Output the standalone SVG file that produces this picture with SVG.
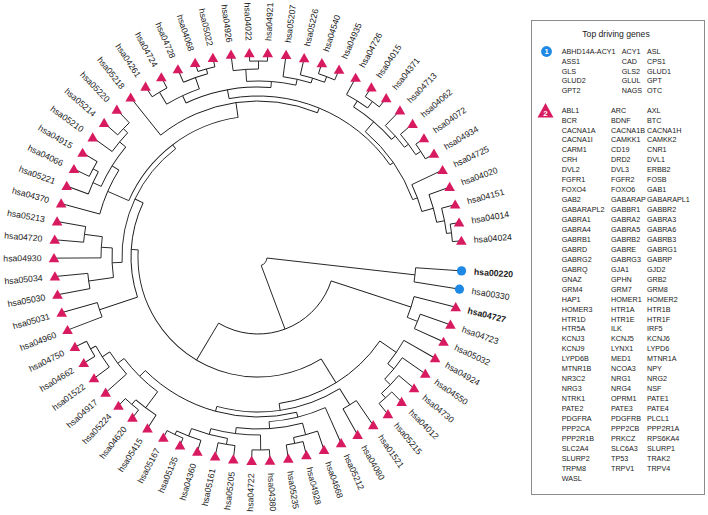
<svg xmlns="http://www.w3.org/2000/svg" xmlns:xlink="http://www.w3.org/1999/xlink" width="708" height="515" viewBox="0 0 708 515">
<style>
.c{fill:none;stroke:#1a1a1a;stroke-width:0.9}
.l{font-family:"Liberation Sans",Arial,sans-serif;font-size:8.7px;fill:#1a1a1a;dominant-baseline:central}
.e{text-anchor:end}
.b{font-weight:bold}
.g{font-family:"Liberation Sans",Arial,sans-serif;font-size:7.2px;fill:#1a1a1a}
.tt{font-family:"Liberation Sans",Arial,sans-serif;font-size:8.6px;fill:#1a1a1a;text-anchor:middle}
.w{font-family:"Liberation Sans",Arial,sans-serif;font-weight:bold;fill:#fff;text-anchor:middle}
</style>
<defs>
<polygon id="t" points="0,-5.2 5.3,4 -5.3,4" fill="#D81B60"/>
<circle id="o" r="4.6" fill="#1E88E5"/>
</defs>
<rect width="708" height="515" fill="#fff"/>
<g id="connectors" class="c" transform="translate(258 257)">
<circle r="9" transform="rotate(6.485)" stroke-dasharray="62.975 999" pathLength="360"/>
<circle r="158" transform="rotate(3.9)" stroke-dasharray="5.17 999" pathLength="360"/>
<circle r="77" transform="rotate(18.12)" stroke-dasharray="102.68 999" pathLength="360"/>
<circle r="161" transform="rotate(14.24)" stroke-dasharray="7.76 999" pathLength="360"/>
<circle r="172" transform="rotate(19.41)" stroke-dasharray="5.17 999" pathLength="360"/>
<circle r="120" transform="rotate(58.2)" stroke-dasharray="125.21 999" pathLength="360"/>
<circle r="148" transform="rotate(34.6)" stroke-dasharray="47.19 999" pathLength="360"/>
<circle r="168" transform="rotate(29.75)" stroke-dasharray="9.69 999" pathLength="360"/>
<circle r="176" transform="rotate(34.92)" stroke-dasharray="9.05 999" pathLength="360"/>
<circle r="184" transform="rotate(40.09)" stroke-dasharray="7.755 999" pathLength="360"/>
<circle r="190" transform="rotate(45.26)" stroke-dasharray="5.17 999" pathLength="360"/>
<circle r="155" transform="rotate(58.185)" stroke-dasharray="47.215 999" pathLength="360"/>
<circle r="174" transform="rotate(55.6)" stroke-dasharray="5.17 999" pathLength="360"/>
<circle r="160" transform="rotate(76.04)" stroke-dasharray="58.73 999" pathLength="360"/>
<circle r="165" transform="rotate(65.94)" stroke-dasharray="20.195 999" pathLength="360"/>
<circle r="172" transform="rotate(74.99)" stroke-dasharray="22.29 999" pathLength="360"/>
<circle r="184" transform="rotate(71.11)" stroke-dasharray="7.755 999" pathLength="360"/>
<circle r="190" transform="rotate(76.28)" stroke-dasharray="5.17 999" pathLength="360"/>
<circle r="178" transform="rotate(89.205)" stroke-dasharray="16.155 999" pathLength="360"/>
<circle r="193" transform="rotate(86.62)" stroke-dasharray="5.17 999" pathLength="360"/>
<circle r="184" transform="rotate(99.545)" stroke-dasharray="11.635 999" pathLength="360"/>
<circle r="190" transform="rotate(96.96)" stroke-dasharray="5.17 999" pathLength="360"/>
<circle r="192" transform="rotate(107.3)" stroke-dasharray="7.755 999" pathLength="360"/>
<circle r="196" transform="rotate(112.47)" stroke-dasharray="5.17 999" pathLength="360"/>
<circle r="168" transform="rotate(126.69)" stroke-dasharray="16.15 999" pathLength="360"/>
<circle r="188" transform="rotate(122.81)" stroke-dasharray="7.755 999" pathLength="360"/>
<circle r="194" transform="rotate(127.98)" stroke-dasharray="5.17 999" pathLength="360"/>
<circle r="176" transform="rotate(138.32)" stroke-dasharray="9.05 999" pathLength="360"/>
<circle r="185" transform="rotate(143.49)" stroke-dasharray="7.755 999" pathLength="360"/>
<circle r="191" transform="rotate(148.66)" stroke-dasharray="5.17 999" pathLength="360"/>
<circle r="127" transform="rotate(161.585)" stroke-dasharray="43.655 999" pathLength="360"/>
<circle r="167" transform="rotate(159)" stroke-dasharray="5.17 999" pathLength="360"/>
<circle r="136" transform="rotate(177.74)" stroke-dasharray="54.99 999" pathLength="360"/>
<circle r="146" transform="rotate(171.925)" stroke-dasharray="11.635 999" pathLength="360"/>
<circle r="171" transform="rotate(169.34)" stroke-dasharray="5.17 999" pathLength="360"/>
<circle r="157" transform="rotate(179.68)" stroke-dasharray="7.755 999" pathLength="360"/>
<circle r="175" transform="rotate(184.85)" stroke-dasharray="5.17 999" pathLength="360"/>
<circle r="141" transform="rotate(203.59)" stroke-dasharray="58.285 999" pathLength="360"/>
<circle r="164" transform="rotate(195.19)" stroke-dasharray="16.8 999" pathLength="360"/>
<circle r="172" transform="rotate(204.24)" stroke-dasharray="15.51 999" pathLength="360"/>
<circle r="181" transform="rotate(200.36)" stroke-dasharray="7.755 999" pathLength="360"/>
<circle r="187" transform="rotate(205.53)" stroke-dasharray="5.17 999" pathLength="360"/>
<circle r="180" transform="rotate(215.87)" stroke-dasharray="7.755 999" pathLength="360"/>
<circle r="186" transform="rotate(221.04)" stroke-dasharray="5.17 999" pathLength="360"/>
<circle r="156" transform="rotate(231.38)" stroke-dasharray="60.99 999" pathLength="360"/>
<circle r="161" transform="rotate(259.65)" stroke-dasharray="65.44 999" pathLength="360"/>
<circle r="170" transform="rotate(244.95)" stroke-dasharray="29.41 999" pathLength="360"/>
<circle r="178" transform="rotate(239.135)" stroke-dasharray="11.635 999" pathLength="360"/>
<circle r="192" transform="rotate(236.55)" stroke-dasharray="5.17 999" pathLength="360"/>
<circle r="190" transform="rotate(246.89)" stroke-dasharray="7.755 999" pathLength="360"/>
<circle r="195" transform="rotate(252.06)" stroke-dasharray="5.17 999" pathLength="360"/>
<circle r="176" transform="rotate(266.28)" stroke-dasharray="16.15 999" pathLength="360"/>
<circle r="188" transform="rotate(262.4)" stroke-dasharray="7.755 999" pathLength="360"/>
<circle r="196" transform="rotate(267.57)" stroke-dasharray="5.17 999" pathLength="360"/>
<circle r="182" transform="rotate(277.91)" stroke-dasharray="9.05 999" pathLength="360"/>
<circle r="187" transform="rotate(283.08)" stroke-dasharray="7.755 999" pathLength="360"/>
<circle r="193" transform="rotate(288.25)" stroke-dasharray="5.17 999" pathLength="360"/>
<circle r="165" transform="rotate(310.55)" stroke-dasharray="29.08 999" pathLength="360"/>
<circle r="178" transform="rotate(302.47)" stroke-dasharray="16.155 999" pathLength="360"/>
<circle r="185" transform="rotate(298.59)" stroke-dasharray="7.755 999" pathLength="360"/>
<circle r="193" transform="rotate(303.76)" stroke-dasharray="5.17 999" pathLength="360"/>
<circle r="183" transform="rotate(314.1)" stroke-dasharray="9.05 999" pathLength="360"/>
<circle r="188" transform="rotate(319.27)" stroke-dasharray="7.755 999" pathLength="360"/>
<circle r="194" transform="rotate(324.44)" stroke-dasharray="5.17 999" pathLength="360"/>
<circle r="170" transform="rotate(334.78)" stroke-dasharray="9.695 999" pathLength="360"/>
<circle r="182" transform="rotate(339.95)" stroke-dasharray="9.05 999" pathLength="360"/>
<circle r="190" transform="rotate(345.12)" stroke-dasharray="7.755 999" pathLength="360"/>
<circle r="195" transform="rotate(350.29)" stroke-dasharray="5.17 999" pathLength="360"/>
<path transform="rotate(6.485)" d="M9 0H158"/>
<path transform="rotate(69.46)" d="M9 0H77"/>
<path transform="rotate(18.12)" d="M77 0H161"/>
<path transform="rotate(22)" d="M161 0H172"/>
<path transform="rotate(120.8)" d="M77 0H120"/>
<path transform="rotate(58.2)" d="M120 0H148"/>
<path transform="rotate(34.6)" d="M148 0H168"/>
<path transform="rotate(39.44)" d="M168 0H176"/>
<path transform="rotate(43.97)" d="M176 0H184"/>
<path transform="rotate(47.845)" d="M184 0H190"/>
<path transform="rotate(81.79)" d="M148 0H155"/>
<path transform="rotate(58.185)" d="M155 0H174"/>
<path transform="rotate(105.4)" d="M155 0H160"/>
<path transform="rotate(76.04)" d="M160 0H165"/>
<path transform="rotate(86.135)" d="M165 0H172"/>
<path transform="rotate(74.99)" d="M172 0H184"/>
<path transform="rotate(78.865)" d="M184 0H190"/>
<path transform="rotate(97.28)" d="M172 0H178"/>
<path transform="rotate(89.205)" d="M178 0H193"/>
<path transform="rotate(105.36)" d="M178 0H184"/>
<path transform="rotate(99.545)" d="M184 0H190"/>
<path transform="rotate(111.18)" d="M184 0H192"/>
<path transform="rotate(115.055)" d="M192 0H196"/>
<path transform="rotate(134.77)" d="M160 0H168"/>
<path transform="rotate(126.69)" d="M168 0H188"/>
<path transform="rotate(130.565)" d="M188 0H194"/>
<path transform="rotate(142.84)" d="M168 0H176"/>
<path transform="rotate(147.37)" d="M176 0H185"/>
<path transform="rotate(151.245)" d="M185 0H191"/>
<path transform="rotate(183.41)" d="M120 0H127"/>
<path transform="rotate(161.585)" d="M127 0H167"/>
<path transform="rotate(205.24)" d="M127 0H136"/>
<path transform="rotate(177.74)" d="M136 0H146"/>
<path transform="rotate(171.925)" d="M146 0H171"/>
<path transform="rotate(183.56)" d="M146 0H157"/>
<path transform="rotate(187.435)" d="M157 0H175"/>
<path transform="rotate(232.73)" d="M136 0H141"/>
<path transform="rotate(203.59)" d="M141 0H164"/>
<path transform="rotate(211.99)" d="M164 0H172"/>
<path transform="rotate(204.24)" d="M172 0H181"/>
<path transform="rotate(208.115)" d="M181 0H187"/>
<path transform="rotate(219.75)" d="M172 0H180"/>
<path transform="rotate(223.625)" d="M180 0H186"/>
<path transform="rotate(261.875)" d="M141 0H156"/>
<path transform="rotate(292.37)" d="M156 0H161"/>
<path transform="rotate(259.65)" d="M161 0H170"/>
<path transform="rotate(244.95)" d="M170 0H178"/>
<path transform="rotate(239.135)" d="M178 0H192"/>
<path transform="rotate(250.77)" d="M178 0H190"/>
<path transform="rotate(254.645)" d="M190 0H195"/>
<path transform="rotate(274.36)" d="M170 0H176"/>
<path transform="rotate(266.28)" d="M176 0H188"/>
<path transform="rotate(270.155)" d="M188 0H196"/>
<path transform="rotate(282.43)" d="M176 0H182"/>
<path transform="rotate(286.96)" d="M182 0H187"/>
<path transform="rotate(290.835)" d="M187 0H193"/>
<path transform="rotate(325.09)" d="M161 0H165"/>
<path transform="rotate(310.55)" d="M165 0H178"/>
<path transform="rotate(302.47)" d="M178 0H185"/>
<path transform="rotate(306.345)" d="M185 0H193"/>
<path transform="rotate(318.625)" d="M178 0H183"/>
<path transform="rotate(323.15)" d="M183 0H188"/>
<path transform="rotate(327.025)" d="M188 0H194"/>
<path transform="rotate(339.63)" d="M165 0H170"/>
<path transform="rotate(344.475)" d="M170 0H182"/>
<path transform="rotate(349)" d="M182 0H190"/>
<path transform="rotate(352.875)" d="M190 0H195"/>
<path transform="rotate(3.9)" d="M158 0H201"/>
<path transform="rotate(9.07)" d="M158 0H201"/>
<path transform="rotate(14.24)" d="M161 0H202"/>
<path transform="rotate(19.41)" d="M172 0H202"/>
<path transform="rotate(24.58)" d="M172 0H202"/>
<path transform="rotate(29.75)" d="M168 0H202"/>
<path transform="rotate(34.92)" d="M176 0H202"/>
<path transform="rotate(40.09)" d="M184 0H202"/>
<path transform="rotate(45.26)" d="M190 0H202"/>
<path transform="rotate(50.43)" d="M190 0H202"/>
<path transform="rotate(55.6)" d="M174 0H202"/>
<path transform="rotate(60.77)" d="M174 0H202"/>
<path transform="rotate(65.94)" d="M165 0H202"/>
<path transform="rotate(71.11)" d="M184 0H202"/>
<path transform="rotate(76.28)" d="M190 0H202"/>
<path transform="rotate(81.45)" d="M190 0H202"/>
<path transform="rotate(86.62)" d="M193 0H202"/>
<path transform="rotate(91.79)" d="M193 0H202"/>
<path transform="rotate(96.96)" d="M190 0H202"/>
<path transform="rotate(102.13)" d="M190 0H202"/>
<path transform="rotate(107.3)" d="M192 0H202"/>
<path transform="rotate(112.47)" d="M196 0H202"/>
<path transform="rotate(117.64)" d="M196 0H202"/>
<path transform="rotate(122.81)" d="M188 0H202"/>
<path transform="rotate(127.98)" d="M194 0H202"/>
<path transform="rotate(133.15)" d="M194 0H202"/>
<path transform="rotate(138.32)" d="M176 0H202"/>
<path transform="rotate(143.49)" d="M185 0H202"/>
<path transform="rotate(148.66)" d="M191 0H202"/>
<path transform="rotate(153.83)" d="M191 0H202"/>
<path transform="rotate(159)" d="M167 0H202"/>
<path transform="rotate(164.17)" d="M167 0H202"/>
<path transform="rotate(169.34)" d="M171 0H202"/>
<path transform="rotate(174.51)" d="M171 0H202"/>
<path transform="rotate(179.68)" d="M157 0H202"/>
<path transform="rotate(184.85)" d="M175 0H202"/>
<path transform="rotate(190.02)" d="M175 0H202"/>
<path transform="rotate(195.19)" d="M164 0H202"/>
<path transform="rotate(200.36)" d="M181 0H202"/>
<path transform="rotate(205.53)" d="M187 0H202"/>
<path transform="rotate(210.7)" d="M187 0H202"/>
<path transform="rotate(215.87)" d="M180 0H202"/>
<path transform="rotate(221.04)" d="M186 0H202"/>
<path transform="rotate(226.21)" d="M186 0H202"/>
<path transform="rotate(231.38)" d="M156 0H202"/>
<path transform="rotate(236.55)" d="M192 0H202"/>
<path transform="rotate(241.72)" d="M192 0H202"/>
<path transform="rotate(246.89)" d="M190 0H202"/>
<path transform="rotate(252.06)" d="M195 0H202"/>
<path transform="rotate(257.23)" d="M195 0H202"/>
<path transform="rotate(262.4)" d="M188 0H202"/>
<path transform="rotate(267.57)" d="M196 0H202"/>
<path transform="rotate(272.74)" d="M196 0H202"/>
<path transform="rotate(277.91)" d="M182 0H202"/>
<path transform="rotate(283.08)" d="M187 0H202"/>
<path transform="rotate(288.25)" d="M193 0H202"/>
<path transform="rotate(293.42)" d="M193 0H202"/>
<path transform="rotate(298.59)" d="M185 0H202"/>
<path transform="rotate(303.76)" d="M193 0H202"/>
<path transform="rotate(308.93)" d="M193 0H202"/>
<path transform="rotate(314.1)" d="M183 0H202"/>
<path transform="rotate(319.27)" d="M188 0H202"/>
<path transform="rotate(324.44)" d="M194 0H202"/>
<path transform="rotate(329.61)" d="M194 0H202"/>
<path transform="rotate(334.78)" d="M170 0H202"/>
<path transform="rotate(339.95)" d="M182 0H202"/>
<path transform="rotate(345.12)" d="M190 0H202"/>
<path transform="rotate(350.29)" d="M195 0H202"/>
<path transform="rotate(355.46)" d="M195 0H202"/>
</g>
<g id="leaves" transform="translate(258 257)">
<g id="hsa00220"><use href="#o" transform="rotate(3.9) translate(204) rotate(-3.9)"/><text class="l b" transform="rotate(3.9)" x="216.5">hsa00220</text></g>
<g id="hsa00330"><use href="#o" transform="rotate(9.07) translate(204) rotate(-9.07)"/><text class="l" transform="rotate(9.07)" x="216.5">hsa00330</text></g>
<g id="hsa04727"><use href="#t" transform="rotate(14.24) translate(204) rotate(-14.24)"/><text class="l b" transform="rotate(14.24)" x="216.5">hsa04727</text></g>
<g id="hsa04723"><use href="#t" transform="rotate(19.41) translate(204) rotate(-19.41)"/><text class="l" transform="rotate(19.41)" x="216.5">hsa04723</text></g>
<g id="hsa05032"><use href="#t" transform="rotate(24.58) translate(204) rotate(-24.58)"/><text class="l" transform="rotate(24.58)" x="216.5">hsa05032</text></g>
<g id="hsa04924"><use href="#t" transform="rotate(29.75) translate(204) rotate(-29.75)"/><text class="l" transform="rotate(29.75)" x="216.5">hsa04924</text></g>
<g id="hsa04550"><use href="#t" transform="rotate(34.92) translate(204) rotate(-34.92)"/><text class="l" transform="rotate(34.92)" x="216.5">hsa04550</text></g>
<g id="hsa04730"><use href="#t" transform="rotate(40.09) translate(204) rotate(-40.09)"/><text class="l" transform="rotate(40.09)" x="216.5">hsa04730</text></g>
<g id="hsa04012"><use href="#t" transform="rotate(45.26) translate(204) rotate(-45.26)"/><text class="l" transform="rotate(45.26)" x="216.5">hsa04012</text></g>
<g id="hsa05215"><use href="#t" transform="rotate(50.43) translate(204) rotate(-50.43)"/><text class="l" transform="rotate(50.43)" x="216.5">hsa05215</text></g>
<g id="hsa01521"><use href="#t" transform="rotate(55.6) translate(204) rotate(-55.6)"/><text class="l" transform="rotate(55.6)" x="216.5">hsa01521</text></g>
<g id="hsa04080"><use href="#t" transform="rotate(60.77) translate(204) rotate(-60.77)"/><text class="l" transform="rotate(60.77)" x="216.5">hsa04080</text></g>
<g id="hsa05212"><use href="#t" transform="rotate(65.94) translate(204) rotate(-65.94)"/><text class="l" transform="rotate(65.94)" x="216.5">hsa05212</text></g>
<g id="hsa04668"><use href="#t" transform="rotate(71.11) translate(204) rotate(-71.11)"/><text class="l" transform="rotate(71.11)" x="216.5">hsa04668</text></g>
<g id="hsa04928"><use href="#t" transform="rotate(76.28) translate(204) rotate(-76.28)"/><text class="l" transform="rotate(76.28)" x="216.5">hsa04928</text></g>
<g id="hsa05235"><use href="#t" transform="rotate(81.45) translate(204) rotate(-81.45)"/><text class="l" transform="rotate(81.45)" x="216.5">hsa05235</text></g>
<g id="hsa04380"><use href="#t" transform="rotate(86.62) translate(204) rotate(-86.62)"/><text class="l" transform="rotate(86.62)" x="216.5">hsa04380</text></g>
<g id="hsa04722"><use href="#t" transform="rotate(91.79) translate(204) rotate(-91.79)"/><text class="l e" transform="rotate(-88.21)" x="-216.5">hsa04722</text></g>
<g id="hsa05205"><use href="#t" transform="rotate(96.96) translate(204) rotate(-96.96)"/><text class="l e" transform="rotate(-83.04)" x="-216.5">hsa05205</text></g>
<g id="hsa05161"><use href="#t" transform="rotate(102.13) translate(204) rotate(-102.13)"/><text class="l e" transform="rotate(-77.87)" x="-216.5">hsa05161</text></g>
<g id="hsa04360"><use href="#t" transform="rotate(107.3) translate(204) rotate(-107.3)"/><text class="l e" transform="rotate(-72.7)" x="-216.5">hsa04360</text></g>
<g id="hsa05135"><use href="#t" transform="rotate(112.47) translate(204) rotate(-112.47)"/><text class="l e" transform="rotate(-67.53)" x="-216.5">hsa05135</text></g>
<g id="hsa05167"><use href="#t" transform="rotate(117.64) translate(204) rotate(-117.64)"/><text class="l e" transform="rotate(-62.36)" x="-216.5">hsa05167</text></g>
<g id="hsa05415"><use href="#t" transform="rotate(122.81) translate(204) rotate(-122.81)"/><text class="l e" transform="rotate(-57.19)" x="-216.5">hsa05415</text></g>
<g id="hsa04620"><use href="#t" transform="rotate(127.98) translate(204) rotate(-127.98)"/><text class="l e" transform="rotate(-52.02)" x="-216.5">hsa04620</text></g>
<g id="hsa05224"><use href="#t" transform="rotate(133.15) translate(204) rotate(-133.15)"/><text class="l e" transform="rotate(-46.85)" x="-216.5">hsa05224</text></g>
<g id="hsa04917"><use href="#t" transform="rotate(138.32) translate(204) rotate(-138.32)"/><text class="l e" transform="rotate(-41.68)" x="-216.5">hsa04917</text></g>
<g id="hsa01522"><use href="#t" transform="rotate(143.49) translate(204) rotate(-143.49)"/><text class="l e" transform="rotate(-36.51)" x="-216.5">hsa01522</text></g>
<g id="hsa04662"><use href="#t" transform="rotate(148.66) translate(204) rotate(-148.66)"/><text class="l e" transform="rotate(-31.34)" x="-216.5">hsa04662</text></g>
<g id="hsa04750"><use href="#t" transform="rotate(153.83) translate(204) rotate(-153.83)"/><text class="l e" transform="rotate(-26.17)" x="-216.5">hsa04750</text></g>
<g id="hsa04960"><use href="#t" transform="rotate(159) translate(204) rotate(-159)"/><text class="l e" transform="rotate(-21)" x="-216.5">hsa04960</text></g>
<g id="hsa05031"><use href="#t" transform="rotate(164.17) translate(204) rotate(-164.17)"/><text class="l e" transform="rotate(-15.83)" x="-216.5">hsa05031</text></g>
<g id="hsa05030"><use href="#t" transform="rotate(169.34) translate(204) rotate(-169.34)"/><text class="l e" transform="rotate(-10.66)" x="-216.5">hsa05030</text></g>
<g id="hsa05034"><use href="#t" transform="rotate(174.51) translate(204) rotate(-174.51)"/><text class="l e" transform="rotate(-5.49)" x="-216.5">hsa05034</text></g>
<g id="hsa04930"><use href="#t" transform="rotate(179.68) translate(204) rotate(-179.68)"/><text class="l e" transform="rotate(-0.32)" x="-216.5">hsa04930</text></g>
<g id="hsa04720"><use href="#t" transform="rotate(184.85) translate(204) rotate(-184.85)"/><text class="l e" transform="rotate(4.85)" x="-216.5">hsa04720</text></g>
<g id="hsa05213"><use href="#t" transform="rotate(190.02) translate(204) rotate(-190.02)"/><text class="l e" transform="rotate(10.02)" x="-216.5">hsa05213</text></g>
<g id="hsa04370"><use href="#t" transform="rotate(195.19) translate(204) rotate(-195.19)"/><text class="l e" transform="rotate(15.19)" x="-216.5">hsa04370</text></g>
<g id="hsa05221"><use href="#t" transform="rotate(200.36) translate(204) rotate(-200.36)"/><text class="l e" transform="rotate(20.36)" x="-216.5">hsa05221</text></g>
<g id="hsa04066"><use href="#t" transform="rotate(205.53) translate(204) rotate(-205.53)"/><text class="l e" transform="rotate(25.53)" x="-216.5">hsa04066</text></g>
<g id="hsa04915"><use href="#t" transform="rotate(210.7) translate(204) rotate(-210.7)"/><text class="l e" transform="rotate(30.7)" x="-216.5">hsa04915</text></g>
<g id="hsa05210"><use href="#t" transform="rotate(215.87) translate(204) rotate(-215.87)"/><text class="l e" transform="rotate(35.87)" x="-216.5">hsa05210</text></g>
<g id="hsa05214"><use href="#t" transform="rotate(221.04) translate(204) rotate(-221.04)"/><text class="l e" transform="rotate(41.04)" x="-216.5">hsa05214</text></g>
<g id="hsa05220"><use href="#t" transform="rotate(226.21) translate(204) rotate(-226.21)"/><text class="l e" transform="rotate(46.21)" x="-216.5">hsa05220</text></g>
<g id="hsa05218"><use href="#t" transform="rotate(231.38) translate(204) rotate(-231.38)"/><text class="l e" transform="rotate(51.38)" x="-216.5">hsa05218</text></g>
<g id="hsa04261"><use href="#t" transform="rotate(236.55) translate(204) rotate(-236.55)"/><text class="l e" transform="rotate(56.55)" x="-216.5">hsa04261</text></g>
<g id="hsa04724"><use href="#t" transform="rotate(241.72) translate(204) rotate(-241.72)"/><text class="l e" transform="rotate(61.72)" x="-216.5">hsa04724</text></g>
<g id="hsa04728"><use href="#t" transform="rotate(246.89) translate(204) rotate(-246.89)"/><text class="l e" transform="rotate(66.89)" x="-216.5">hsa04728</text></g>
<g id="hsa04068"><use href="#t" transform="rotate(252.06) translate(204) rotate(-252.06)"/><text class="l e" transform="rotate(72.06)" x="-216.5">hsa04068</text></g>
<g id="hsa05022"><use href="#t" transform="rotate(257.23) translate(204) rotate(-257.23)"/><text class="l e" transform="rotate(77.23)" x="-216.5">hsa05022</text></g>
<g id="hsa04926"><use href="#t" transform="rotate(262.4) translate(204) rotate(-262.4)"/><text class="l e" transform="rotate(82.4)" x="-216.5">hsa04926</text></g>
<g id="hsa04022"><use href="#t" transform="rotate(267.57) translate(204) rotate(-267.57)"/><text class="l e" transform="rotate(87.57)" x="-216.5">hsa04022</text></g>
<g id="hsa04921"><use href="#t" transform="rotate(272.74) translate(204) rotate(-272.74)"/><text class="l" transform="rotate(272.74)" x="216.5">hsa04921</text></g>
<g id="hsa05207"><use href="#t" transform="rotate(277.91) translate(204) rotate(-277.91)"/><text class="l" transform="rotate(277.91)" x="216.5">hsa05207</text></g>
<g id="hsa05226"><use href="#t" transform="rotate(283.08) translate(204) rotate(-283.08)"/><text class="l" transform="rotate(283.08)" x="216.5">hsa05226</text></g>
<g id="hsa04540"><use href="#t" transform="rotate(288.25) translate(204) rotate(-288.25)"/><text class="l" transform="rotate(288.25)" x="216.5">hsa04540</text></g>
<g id="hsa04935"><use href="#t" transform="rotate(293.42) translate(204) rotate(-293.42)"/><text class="l" transform="rotate(293.42)" x="216.5">hsa04935</text></g>
<g id="hsa04726"><use href="#t" transform="rotate(298.59) translate(204) rotate(-298.59)"/><text class="l" transform="rotate(298.59)" x="216.5">hsa04726</text></g>
<g id="hsa04015"><use href="#t" transform="rotate(303.76) translate(204) rotate(-303.76)"/><text class="l" transform="rotate(303.76)" x="216.5">hsa04015</text></g>
<g id="hsa04371"><use href="#t" transform="rotate(308.93) translate(204) rotate(-308.93)"/><text class="l" transform="rotate(308.93)" x="216.5">hsa04371</text></g>
<g id="hsa04713"><use href="#t" transform="rotate(314.1) translate(204) rotate(-314.1)"/><text class="l" transform="rotate(314.1)" x="216.5">hsa04713</text></g>
<g id="hsa04062"><use href="#t" transform="rotate(319.27) translate(204) rotate(-319.27)"/><text class="l" transform="rotate(319.27)" x="216.5">hsa04062</text></g>
<g id="hsa04072"><use href="#t" transform="rotate(324.44) translate(204) rotate(-324.44)"/><text class="l" transform="rotate(324.44)" x="216.5">hsa04072</text></g>
<g id="hsa04934"><use href="#t" transform="rotate(329.61) translate(204) rotate(-329.61)"/><text class="l" transform="rotate(329.61)" x="216.5">hsa04934</text></g>
<g id="hsa04725"><use href="#t" transform="rotate(334.78) translate(204) rotate(-334.78)"/><text class="l" transform="rotate(334.78)" x="216.5">hsa04725</text></g>
<g id="hsa04020"><use href="#t" transform="rotate(339.95) translate(204) rotate(-339.95)"/><text class="l" transform="rotate(339.95)" x="216.5">hsa04020</text></g>
<g id="hsa04151"><use href="#t" transform="rotate(345.12) translate(204) rotate(-345.12)"/><text class="l" transform="rotate(345.12)" x="216.5">hsa04151</text></g>
<g id="hsa04014"><use href="#t" transform="rotate(350.29) translate(204) rotate(-350.29)"/><text class="l" transform="rotate(350.29)" x="216.5">hsa04014</text></g>
<g id="hsa04024"><use href="#t" transform="rotate(355.46) translate(204) rotate(-355.46)"/><text class="l" transform="rotate(355.46)" x="216.5">hsa04024</text></g>
</g>
<g id="legend">
<rect x="531.5" y="20.5" width="173" height="474" fill="#fff" stroke="#8c8c8c" stroke-width="1"/>
<text class="tt" x="616" y="37">Top driving genes</text>
<circle cx="546.5" cy="51.5" r="5.4" fill="#1E88E5"/>
<text class="w" x="546.5" y="54.2" font-size="7.5px">1</text>
<text class="g" y="54.3"><tspan x="561.7">ABHD14A-ACY1</tspan><tspan x="561.7" dy="9.6">ASS1</tspan><tspan x="561.7" dy="9.6">GLS</tspan><tspan x="561.7" dy="9.6">GLUD2</tspan><tspan x="561.7" dy="9.6">GPT2</tspan></text>
<text class="g" y="54.3"><tspan x="621.7">ACY1</tspan><tspan x="621.7" dy="9.6">CAD</tspan><tspan x="621.7" dy="9.6">GLS2</tspan><tspan x="621.7" dy="9.6">GLUL</tspan><tspan x="621.7" dy="9.6">NAGS</tspan></text>
<text class="g" y="54.3"><tspan x="647">ASL</tspan><tspan x="647" dy="9.6">CPS1</tspan><tspan x="647" dy="9.6">GLUD1</tspan><tspan x="647" dy="9.6">GPT</tspan><tspan x="647" dy="9.6">OTC</tspan></text>
<polygon points="545.5,103 553.5,117.5 537.5,117.5" fill="#D81B60"/>
<text class="w" x="545.5" y="115.6" font-size="8px">2</text>
<text class="g" y="112.6"><tspan x="561.7">ABL1</tspan><tspan x="561.7" dy="9.95">BCR</tspan><tspan x="561.7" dy="9.95">CACNA1A</tspan><tspan x="561.7" dy="9.95">CACNA1I</tspan><tspan x="561.7" dy="9.95">CARM1</tspan><tspan x="561.7" dy="9.95">CRH</tspan><tspan x="561.7" dy="9.95">DVL2</tspan><tspan x="561.7" dy="9.95">FGFR1</tspan><tspan x="561.7" dy="9.95">FOXO4</tspan><tspan x="561.7" dy="9.95">GAB2</tspan><tspan x="561.7" dy="9.95">GABARAPL2</tspan><tspan x="561.7" dy="9.95">GABRA1</tspan><tspan x="561.7" dy="9.95">GABRA4</tspan><tspan x="561.7" dy="9.95">GABRB1</tspan><tspan x="561.7" dy="9.95">GABRD</tspan><tspan x="561.7" dy="9.95">GABRG2</tspan><tspan x="561.7" dy="9.95">GABRQ</tspan><tspan x="561.7" dy="9.95">GNAZ</tspan><tspan x="561.7" dy="9.95">GRM4</tspan><tspan x="561.7" dy="9.95">HAP1</tspan><tspan x="561.7" dy="9.95">HOMER3</tspan><tspan x="561.7" dy="9.95">HTR1D</tspan><tspan x="561.7" dy="9.95">HTR5A</tspan><tspan x="561.7" dy="9.95">KCNJ3</tspan><tspan x="561.7" dy="9.95">KCNJ9</tspan><tspan x="561.7" dy="9.95">LYPD6B</tspan><tspan x="561.7" dy="9.95">MTNR1B</tspan><tspan x="561.7" dy="9.95">NR3C2</tspan><tspan x="561.7" dy="9.95">NRG3</tspan><tspan x="561.7" dy="9.95">NTRK1</tspan><tspan x="561.7" dy="9.95">PATE2</tspan><tspan x="561.7" dy="9.95">PDGFRA</tspan><tspan x="561.7" dy="9.95">PPP2CA</tspan><tspan x="561.7" dy="9.95">PPP2R1B</tspan><tspan x="561.7" dy="9.95">SLC2A4</tspan><tspan x="561.7" dy="9.95">SLURP2</tspan><tspan x="561.7" dy="9.95">TRPM8</tspan><tspan x="561.7" dy="9.95">WASL</tspan></text>
<text class="g" y="112.6"><tspan x="611">ARC</tspan><tspan x="611" dy="9.95">BDNF</tspan><tspan x="611" dy="9.95">CACNA1B</tspan><tspan x="611" dy="9.95">CAMKK1</tspan><tspan x="611" dy="9.95">CD19</tspan><tspan x="611" dy="9.95">DRD2</tspan><tspan x="611" dy="9.95">DVL3</tspan><tspan x="611" dy="9.95">FGFR2</tspan><tspan x="611" dy="9.95">FOXO6</tspan><tspan x="611" dy="9.95">GABARAP</tspan><tspan x="611" dy="9.95">GABBR1</tspan><tspan x="611" dy="9.95">GABRA2</tspan><tspan x="611" dy="9.95">GABRA5</tspan><tspan x="611" dy="9.95">GABRB2</tspan><tspan x="611" dy="9.95">GABRE</tspan><tspan x="611" dy="9.95">GABRG3</tspan><tspan x="611" dy="9.95">GJA1</tspan><tspan x="611" dy="9.95">GPHN</tspan><tspan x="611" dy="9.95">GRM7</tspan><tspan x="611" dy="9.95">HOMER1</tspan><tspan x="611" dy="9.95">HTR1A</tspan><tspan x="611" dy="9.95">HTR1E</tspan><tspan x="611" dy="9.95">ILK</tspan><tspan x="611" dy="9.95">KCNJ5</tspan><tspan x="611" dy="9.95">LYNX1</tspan><tspan x="611" dy="9.95">MED1</tspan><tspan x="611" dy="9.95">NCOA3</tspan><tspan x="611" dy="9.95">NRG1</tspan><tspan x="611" dy="9.95">NRG4</tspan><tspan x="611" dy="9.95">OPRM1</tspan><tspan x="611" dy="9.95">PATE3</tspan><tspan x="611" dy="9.95">PDGFRB</tspan><tspan x="611" dy="9.95">PPP2CB</tspan><tspan x="611" dy="9.95">PRKCZ</tspan><tspan x="611" dy="9.95">SLC6A3</tspan><tspan x="611" dy="9.95">TP53</tspan><tspan x="611" dy="9.95">TRPV1</tspan></text>
<text class="g" y="112.6"><tspan x="647">AXL</tspan><tspan x="647" dy="9.95">BTC</tspan><tspan x="647" dy="9.95">CACNA1H</tspan><tspan x="647" dy="9.95">CAMKK2</tspan><tspan x="647" dy="9.95">CNR1</tspan><tspan x="647" dy="9.95">DVL1</tspan><tspan x="647" dy="9.95">ERBB2</tspan><tspan x="647" dy="9.95">FOSB</tspan><tspan x="647" dy="9.95">GAB1</tspan><tspan x="647" dy="9.95">GABARAPL1</tspan><tspan x="647" dy="9.95">GABBR2</tspan><tspan x="647" dy="9.95">GABRA3</tspan><tspan x="647" dy="9.95">GABRA6</tspan><tspan x="647" dy="9.95">GABRB3</tspan><tspan x="647" dy="9.95">GABRG1</tspan><tspan x="647" dy="9.95">GABRP</tspan><tspan x="647" dy="9.95">GJD2</tspan><tspan x="647" dy="9.95">GRB2</tspan><tspan x="647" dy="9.95">GRM8</tspan><tspan x="647" dy="9.95">HOMER2</tspan><tspan x="647" dy="9.95">HTR1B</tspan><tspan x="647" dy="9.95">HTR1F</tspan><tspan x="647" dy="9.95">IRF5</tspan><tspan x="647" dy="9.95">KCNJ6</tspan><tspan x="647" dy="9.95">LYPD6</tspan><tspan x="647" dy="9.95">MTNR1A</tspan><tspan x="647" dy="9.95">NPY</tspan><tspan x="647" dy="9.95">NRG2</tspan><tspan x="647" dy="9.95">NSF</tspan><tspan x="647" dy="9.95">PATE1</tspan><tspan x="647" dy="9.95">PATE4</tspan><tspan x="647" dy="9.95">PLCL1</tspan><tspan x="647" dy="9.95">PPP2R1A</tspan><tspan x="647" dy="9.95">RPS6KA4</tspan><tspan x="647" dy="9.95">SLURP1</tspan><tspan x="647" dy="9.95">TRAK2</tspan><tspan x="647" dy="9.95">TRPV4</tspan></text>
</g>
</svg>
